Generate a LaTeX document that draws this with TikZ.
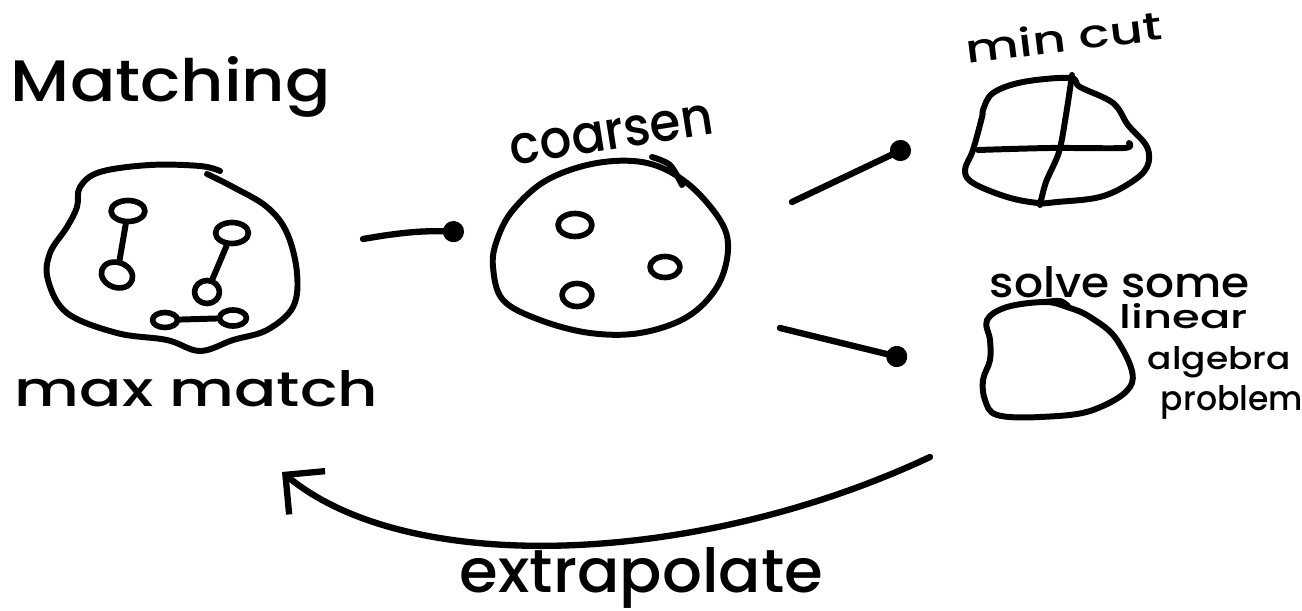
\documentclass[tikz,border=0pt]{standalone}
\usepackage{fontspec}
\setmainfont{Poppins Medium}
\usepackage{graphicx}
\usetikzlibrary{arrows.meta,shapes.geometric}

\begin{document}
\begin{tikzpicture}[x=0.02cm, y=-0.02cm, line width=3.4pt, line cap=round, line join=round,
    vertex/.style={ellipse, draw, line width=3.2pt, inner sep=0pt, minimum width=0.64cm, minimum height=0.42cm},
    push/.style={line width=3.6pt, -{Circle[length=12pt]}},
    back/.style={line width=3.6pt, -{Straight Barb[length=16pt, width=32pt]}},
    scrawl/.style={anchor=base west, inner sep=0pt}]
  \useasboundingbox (0,0) rectangle (1302,611);

  % graph with a matching
  \draw plot[smooth, tension=0.6] coordinates {(207,174) (233,187) (267,207) (287,233) (297,273) (293,307)
    (267,330) (233,340) (200,351) (167,340) (117,333) (67,313) (48,280) (50,253) (67,227) (77,207)
    (80,187) (100,172) (150,165) (200,166) (220,171)};
  \node[vertex, minimum width=0.68cm] (m1) at (128,211) {};
  \node[vertex, rotate=-20, minimum height=0.5cm] (m2) at (117,275) {};
  \node[vertex, minimum width=0.66cm] (m3) at (232,233) {};
  \node[vertex, minimum width=0.5cm, minimum height=0.46cm] (m4) at (207,292) {};
  \node[vertex, minimum width=0.5cm, minimum height=0.3cm] (m5) at (165,320) {};
  \node[vertex, minimum width=0.54cm, minimum height=0.32cm] (m6) at (233,318) {};
  \draw (m1) -- (m2);
  \draw (m3) -- (m4);
  \draw (m5) -- (m6);

  % coarse graph
  \draw plot[smooth cycle, tension=0.6] coordinates {(513,210) (547,180) (597,163) (647,163) (687,183)
    (720,220) (728,250) (717,287) (687,317) (640,333) (590,333) (540,320) (503,300) (493,267) (497,240)};
  \draw plot[smooth] coordinates {(652,157) (670,165) (682,185)};
  \node[vertex, minimum width=0.68cm, minimum height=0.46cm] (c1) at (575,225) {};
  \node[vertex, minimum width=0.6cm] (c2) at (665,267) {};
  \node[vertex, minimum width=0.6cm, minimum height=0.46cm] (c3) at (577,295) {};

  % min cut
  \draw plot[smooth cycle, tension=0.6] coordinates {(983,110) (993,93) (1023,82) (1070,78) (1080,87)
    (1113,103) (1128,125) (1147,147) (1147,167) (1130,183) (1100,197) (1057,202) (1038,203) (1007,197)
    (973,183) (965,170) (973,150) (982,117)};
  \draw plot[smooth] coordinates {(978,150) (1050,148) (1124,148) (1129,143)};
  \draw plot[smooth] coordinates {(1072,75) (1066,115) (1059,152) (1046,182) (1040,205)};

  % linear algebra
  \draw plot[smooth cycle, tension=0.6] coordinates {(1045,302) (1007,307) (987,320) (990,340) (990,360)
    (983,380) (985,400) (997,415) (1040,417) (1093,410) (1132,383) (1117,340) (1090,317) (1067,307)};
  \draw plot[smooth] coordinates {(1045,302) (1060,301) (1068,306)};

  % arrows
  \coordinate (p1s) at (363,239); \coordinate (p1e) at (464,232);
  \coordinate (p2s) at (792,202); \coordinate (p2e) at (910,146);
  \coordinate (p3s) at (780,328); \coordinate (p3e) at (907,359);
  \draw[push] (p1s) to[bend left=6] (p1e);
  \draw[push] (p2s) -- (p2e);
  \draw[push] (p3s) -- (p3e);
  \coordinate (x1) at (930,457); \coordinate (x2) at (282,472);
  \draw[back] (x1) .. controls (700,565) and (410,578) .. (x2);

  % texts
  \node[scrawl] (tmatch) at (8,102) {\resizebox{6.4cm}{0.9cm}{Matching}};
  \node[scrawl] (tmax) at (12,406) {\resizebox{7.26cm}{0.72cm}{max match}};
  \node[scrawl, rotate=9] (tcoarse) at (510,166) {\resizebox{4.1cm}{0.6cm}{coarsen}};
  \node[scrawl, rotate=7] (tcut) at (965,64) {\resizebox{3.94cm}{0.6cm}{min cut}};
  \node[scrawl] (tsolve) at (987,297) {\resizebox{5.2cm}{0.62cm}{solve some}};
  \node[scrawl] (tlin) at (1117,328) {\resizebox{2.56cm}{0.5cm}{linear}};
  \node[scrawl] (talg) at (1145,370) {\resizebox{2.86cm}{0.46cm}{algebra}};
  \node[scrawl] (tprob) at (1158,410) {\resizebox{2.84cm}{0.5cm}{problem}};
  \node[scrawl] (textra) at (457,592) {\resizebox{7.26cm}{0.9cm}{extrapolate}};
\end{tikzpicture}
\end{document}
